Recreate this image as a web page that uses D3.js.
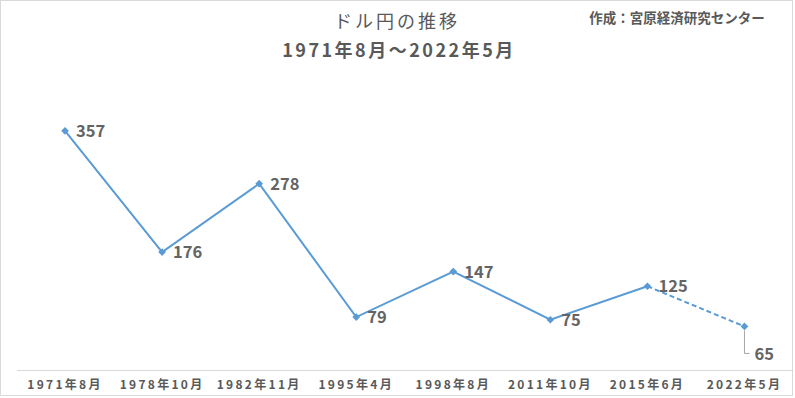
<!DOCTYPE html>
<html>
<head>
<meta charset="utf-8">
<script src="https://cdn.jsdelivr.net/npm/d3@7"></script>
<style>
  body { margin: 0; background: #fff; }
  text { font-family: "Noto Sans CJK JP", "Noto Sans", sans-serif; fill: #595959; }
</style>
</head>
<body>
<div id="chart"></div>
<script>
// data
var categories = ["1971年8月", "1978年10月", "1982年11月", "1995年4月", "1998年8月", "2011年10月", "2015年6月", "2022年5月"];
var values = [357, 176, 278, 79, 147, 75, 125, 65];
var titleLines = ["ドル円の推移", "1971年8月～2022年5月"];
var creditText = "作成：宮原経済研究センター";

var W = 795, H = 398;
var margin = { top: 102, right: 2, bottom: 28, left: 16.5 };

var svg = d3.select("#chart").append("svg")
  .attr("width", W).attr("height", H);

// chart border
svg.append("rect")
  .attr("x", 0.5).attr("y", 0.5)
  .attr("width", W - 3).attr("height", H - 3)
  .attr("fill", "#fff").attr("stroke", "#d9d9d9");

var x = d3.scaleBand()
  .domain(categories)
  .range([margin.left, W - margin.right]);

var y = d3.scaleLinear()
  .domain([0, 400])
  .range([H - margin.bottom, margin.top]);

// titles
svg.append("text")
  .attr("x", 397).attr("y", 28)
  .attr("text-anchor", "middle")
  .style("font-size", "18px")
  .style("letter-spacing", "3px")
  .text(titleLines[0]);

svg.append("text")
  .attr("x", 399).attr("y", 57)
  .attr("text-anchor", "middle")
  .style("font-size", "18px")
  .style("font-weight", "bold")
  .style("letter-spacing", "2.5px")
  .text(titleLines[1]);

svg.append("text")
  .attr("x", 677).attr("y", 23)
  .attr("text-anchor", "middle")
  .style("font-size", "13.5px")
  .style("font-weight", "bold")
  .text(creditText);

// x axis
var xAxis = d3.axisBottom(x).tickSize(0).tickPadding(10);
var gx = svg.append("g")
  .attr("transform", "translate(0," + y(0) + ")")
  .call(xAxis);
gx.select(".domain").attr("stroke", "#d9d9d9");
gx.selectAll("text")
  .style("font-size", "12px")
  .style("font-weight", "bold")
  .style("letter-spacing", "2.3px")
  .style("fill", "#595959");

var cx = function (i) { return x(categories[i]) + x.bandwidth() / 2; };
var blue = "#5b9bd5";

// solid segment up to 2015, dashed last segment
var line = d3.line()
  .x(function (d) { return cx(d.i); })
  .y(function (d) { return y(d.v); });
var pts = values.map(function (v, i) { return { v: v, i: i }; });

svg.append("path")
  .datum(pts.slice(0, pts.length - 1))
  .attr("d", line)
  .attr("fill", "none")
  .attr("stroke", blue)
  .attr("stroke-width", 2);

svg.append("path")
  .datum(pts.slice(pts.length - 2))
  .attr("d", line)
  .attr("fill", "none")
  .attr("stroke", blue)
  .attr("stroke-width", 2)
  .attr("stroke-dasharray", "5,3");

// markers
svg.selectAll(".marker")
  .data(pts)
  .enter()
  .append("path")
  .attr("class", "marker")
  .attr("d", d3.symbol().type(d3.symbolSquare).size(30))
  .attr("transform", function (d) {
    return "translate(" + cx(d.i) + "," + y(d.v) + ") rotate(45)";
  })
  .attr("fill", blue);

// labels
var last = pts.length - 1;
svg.selectAll(".lbl")
  .data(pts.slice(0, last))
  .enter()
  .append("text")
  .attr("class", "lbl")
  .attr("x", function (d) { return cx(d.i) + 11; })
  .attr("y", function (d) { return y(d.v) + 6; })
  .style("font-size", "16.5px")
  .style("font-weight", "bold")
  .style("fill", "#646464")
  .text(function (d) { return d.v; });

// last label with leader line
var lx = cx(last), ly = y(values[last]);
svg.append("path")
  .attr("d", "M" + lx + "," + (ly + 4) + "V" + (ly + 27) + "h5")
  .attr("fill", "none")
  .attr("stroke", "#a6a6a6");
svg.append("text")
  .attr("x", lx + 10).attr("y", ly + 34)
  .style("font-size", "16.5px")
  .style("font-weight", "bold")
  .style("fill", "#646464")
  .text(values[last]);
</script>
</body>
</html>
